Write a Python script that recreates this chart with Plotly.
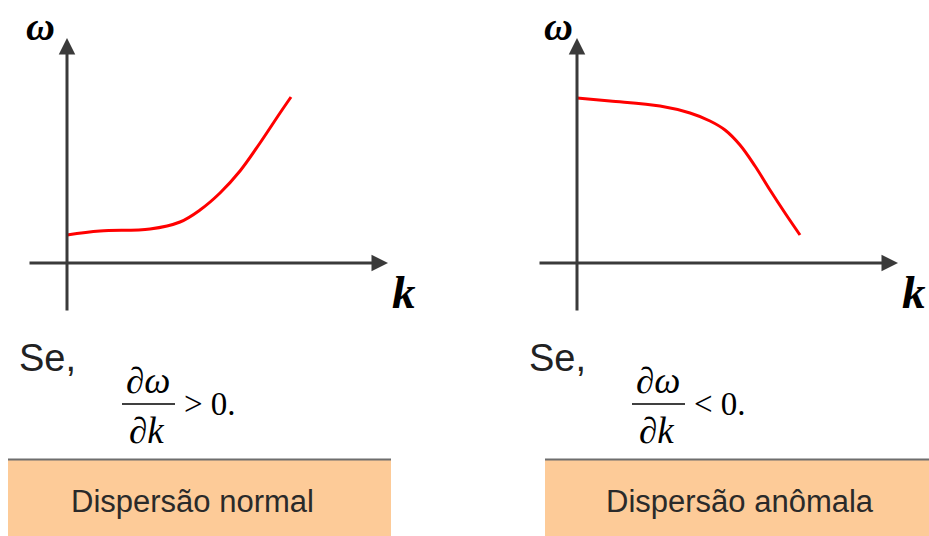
import plotly.graph_objects as go

W, H = 929, 536

# Data (arbitrary units; origin at axis crossing)
k_normal = [0, 3.3, 8.3, 11.3, 13.3, 15.3, 17.3, 19.3, 21.3, 22.4]
w_normal = [2.8, 3.2, 3.4, 4.1, 5.3, 7.0, 9.2, 12.0, 15.0, 16.6]

k_anom = [0, 3.3, 8.3, 11.3, 13.3, 14.8, 16.3, 17.8, 19.3, 20.8, 22.3]
w_anom = [16.5, 16.2, 15.7, 15.0, 14.2, 13.3, 11.8, 9.7, 7.3, 5.0, 2.8]

box_labels = ["Dispersão normal", "Dispersão anômala"]
signs = ["&gt; 0.", "&lt; 0."]

AX = "#3a3a3a"
RED = "#ff0000"
FILL = "#fdcb98"


def px(x):
    return x / W


def py(y):
    return 1 - y / H


fig = go.Figure()

fig.add_trace(go.Scatter(x=k_normal, y=w_normal, mode="lines", xaxis="x", yaxis="y",
                         line=dict(color=RED, width=3, shape="spline", smoothing=1.0),
                         hoverinfo="skip", showlegend=False))
fig.add_trace(go.Scatter(x=k_anom, y=w_anom, mode="lines", xaxis="x2", yaxis="y2",
                         line=dict(color=RED, width=3, shape="spline", smoothing=1.0),
                         hoverinfo="skip", showlegend=False))

axis_common = dict(visible=False, showgrid=False, zeroline=False, fixedrange=True)
fig.update_layout(
    width=W, height=H,
    margin=dict(l=0, r=0, t=0, b=0),
    paper_bgcolor="white", plot_bgcolor="rgba(0,0,0,0)",
    xaxis=dict(domain=[0, px(420)], range=[-6.7, 35.3], **axis_common),
    yaxis=dict(domain=[py(320), 1], range=[-5.7, 26.3], **axis_common),
    xaxis2=dict(domain=[px(510), 1], range=[-6.7, 35.2], anchor="y2", **axis_common),
    yaxis2=dict(domain=[py(320), 1], range=[-5.7, 26.3], anchor="x2", **axis_common),
    showlegend=False,
)

annotations = []
shapes = []

for i, (xr, yr) in enumerate([("x", "y"), ("x2", "y2")]):
    annotations.append(dict(x=32.1, y=0, ax=-3.9, ay=0, xref=xr, yref=yr, axref=xr, ayref=yr,
                            showarrow=True, arrowhead=2, arrowsize=1.1, arrowwidth=3,
                            arrowcolor=AX, text=""))
    annotations.append(dict(x=0, y=22.5, ax=0, ay=-4.9, xref=xr, yref=yr, axref=xr, ayref=yr,
                            showarrow=True, arrowhead=2, arrowsize=1.1, arrowwidth=3,
                            arrowcolor=AX, text=""))
    annotations.append(dict(x=-2.7 + (0.8 if i else 0), y=23.7, xref=xr, yref=yr, showarrow=False,
                            xanchor="center", yanchor="middle",
                            text="<b><i>ω</i></b>",
                            font=dict(family="Liberation Serif", size=40, color="black")))
    annotations.append(dict(x=33.7, y=-2.9, xref=xr, yref=yr, showarrow=False,
                            xanchor="center", yanchor="middle",
                            text="<b><i>k</i></b>",
                            font=dict(family="Liberation Serif", size=47, color="black")))

for i, off in enumerate([0, 510]):
    annotations.append(dict(x=px(17 + off), y=py(358), xref="paper", yref="paper",
                            xanchor="left", yanchor="middle", showarrow=False, text="Se,",
                            font=dict(family="Liberation Sans", size=38, color="#222222")))
    cx = 148 + off
    annotations.append(dict(x=px(cx), y=py(380), xref="paper", yref="paper",
                            xanchor="center", yanchor="middle",
                            showarrow=False, text="<i>∂ω</i>",
                            font=dict(family="Liberation Serif", size=37, color="black")))
    annotations.append(dict(x=px(cx - 2), y=py(430), xref="paper", yref="paper",
                            xanchor="center", yanchor="middle",
                            showarrow=False, text="<i>∂k</i>",
                            font=dict(family="Liberation Serif", size=37, color="black")))
    shapes.append(dict(type="line", xref="paper", yref="paper",
                       x0=px(122 + off), x1=px(175 + off), y0=py(404), y1=py(404),
                       line=dict(color="black", width=1.5)))
    annotations.append(dict(x=px(182 + off), y=py(404), xref="paper", yref="paper",
                            xanchor="left", yanchor="middle", showarrow=False, text=signs[i],
                            font=dict(family="Liberation Serif", size=33, color="black")))

boxes = [(8, 391, 192), (545, 930, 740)]
for (x0, x1, tx), lab in zip(boxes, box_labels):
    shapes.append(dict(type="rect", xref="paper", yref="paper",
                       x0=px(x0), x1=px(x1), y0=py(536), y1=py(459),
                       fillcolor=FILL, line=dict(width=0), layer="below"))
    shapes.append(dict(type="line", xref="paper", yref="paper",
                       x0=px(x0), x1=px(x1), y0=py(459.5), y1=py(459.5),
                       line=dict(color="#6e6e6e", width=2)))
    annotations.append(dict(x=px(tx), y=py(501), xref="paper", yref="paper",
                            xanchor="center", yanchor="middle", showarrow=False, text=lab,
                            font=dict(family="Liberation Sans", size=31, color="#2a2a2a")))

fig.update_layout(annotations=annotations, shapes=shapes)

fig.write_html("out.html", config={"displayModeBar": False},
               post_script="document.body.style.margin='0';document.body.style.overflow='hidden';")
